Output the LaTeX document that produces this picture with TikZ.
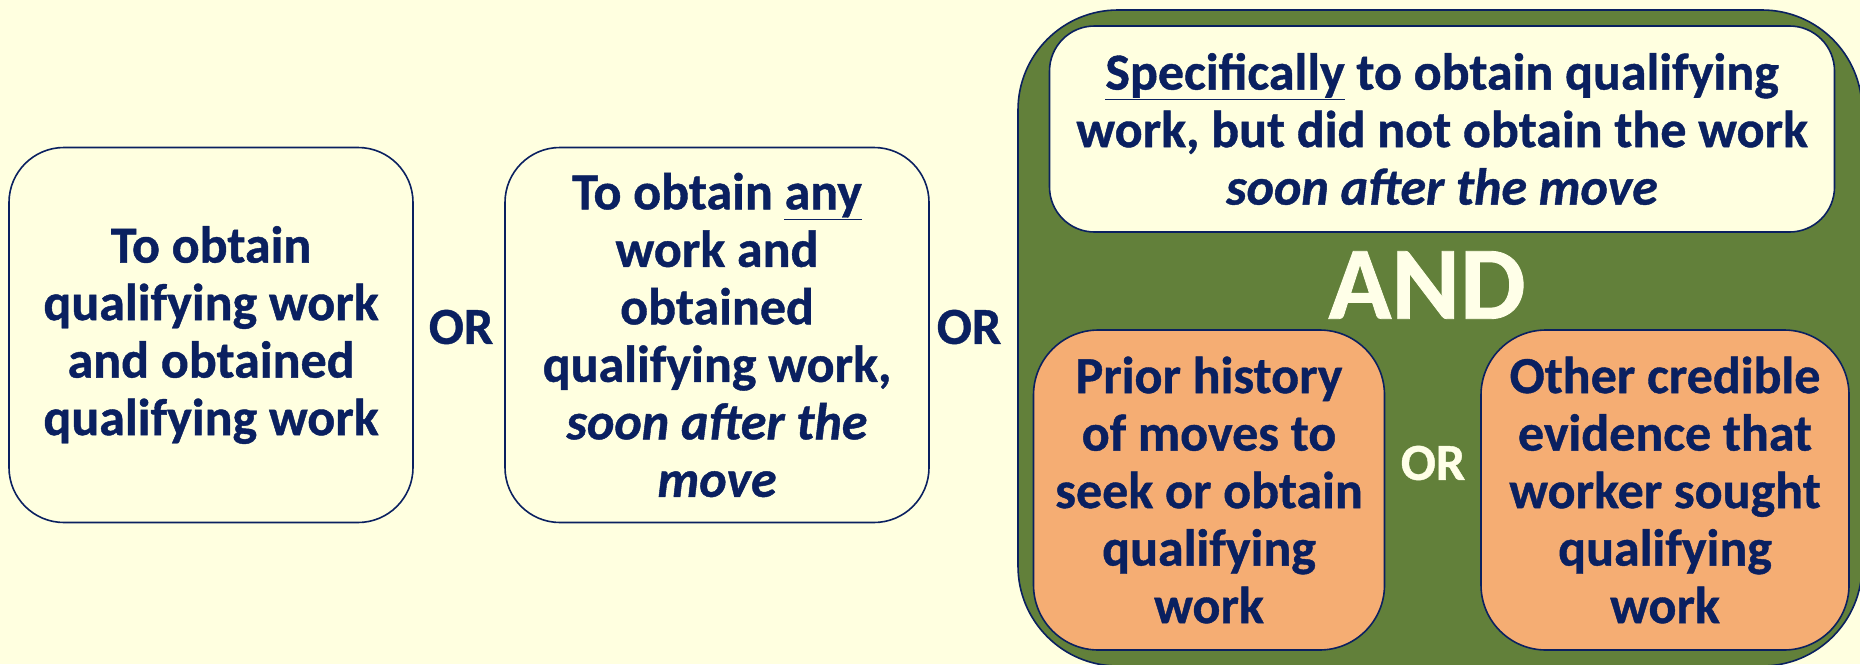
\documentclass[tikz,border=0pt]{standalone}
\usepackage{fontspec}
\setmainfont{Carlito}[BoldFeatures={FakeBold=0.8}, BoldItalicFeatures={FakeBold=0.8}]
\usepackage{tikz}
\usetikzlibrary{calc}

\definecolor{cream}{RGB}{255,255,224}
\definecolor{navy}{RGB}{10,32,96}
\definecolor{leaf}{RGB}{98,128,58}
\definecolor{peach}{RGB}{245,173,115}
\definecolor{paper}{RGB}{255,255,232}

\tikzset{
  card/.style={draw=navy, line width=1.6pt, rounded corners=#1, align=center,
    text=navy, inner sep=0pt, font=\fontsize{52}{57.5}\selectfont\bfseries},
  card/.default=55pt,
  orword/.style={font=\fontsize{52}{54}\selectfont\bfseries}
}

\begin{document}
\begin{tikzpicture}[x=1pt, y=-1pt]
        \fill[cream] (0,0) rectangle (1860,664);
        \useasboundingbox (0,0) rectangle (1860,664);
        \node (qual) at (211,335) [card, fill=cream, minimum width=404pt, minimum height=375pt]
          {To obtain\\qualifying work\\and obtained\\qualifying work};
        \node (any) at (717,335) [card, fill=cream, minimum width=424pt, minimum height=375pt]
          {To obtain \underline{any}\\work and\\obtained\\qualifying work,\\\textit{soon after the}\\\textit{move}};
        \node (grp) at (1440,338) [card=100pt, fill=leaf, minimum width=844pt, minimum height=656pt] {};
        \node (spec) at (1442,129) [card=45pt, fill=cream, minimum width=785pt, minimum height=206pt]
          {\underline{Specifically} to obtain qualifying\\work, but did not obtain the work\\\textit{soon after the move}};
        \node (hist) at (1209,490) [card=65pt, fill=peach, minimum width=351pt, minimum height=320pt]
          {Prior history\\of moves to\\seek or obtain\\qualifying\\work};
        \node (evid) at (1665,490) [card=65pt, fill=peach, minimum width=368pt, minimum height=320pt]
          {Other credible\\evidence that\\worker sought\\qualifying\\work};
        \node (or1) at (461,327) [orword, text=navy] {OR};
        \node (or2) at (969,327) [orword, text=navy] {OR};
        \node (or3) at (1433,463) [orword, text=paper] {OR};
        \node (and) at (1427,285) [text=paper, font=\fontsize{104}{110}\selectfont\bfseries] {AND};
\end{tikzpicture}
\end{document}
